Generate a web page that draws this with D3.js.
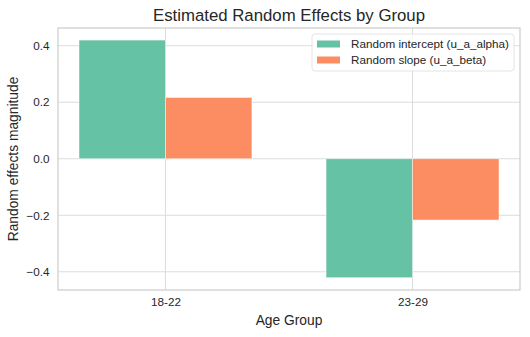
<!DOCTYPE html>
<html>
<head>
<meta charset="utf-8">
<script src="https://cdn.jsdelivr.net/npm/d3@7"></script>
<style>
  body { margin: 0; background: #fff; }
  text { font-family: "Liberation Sans", Arial, sans-serif; fill: #262626; }
</style>
</head>
<body>
<svg id="chart" width="530" height="337"></svg>
<script>
const groups = ["18-22", "23-29"];
const interceptValues = [0.42, -0.421];
const slopeValues = [0.217, -0.217];
const seriesNames = ["Random intercept (u_a_alpha)", "Random slope (u_a_beta)"];
const yTicks = [-0.4, -0.2, 0.0, 0.2, 0.4];

const svg = d3.select("#chart");
const margin = { top: 28, right: 10, bottom: 47, left: 58 };
const width = +svg.attr("width");
const height = +svg.attr("height");
const chartWidth = width - margin.left - margin.right;
const chartHeight = height - margin.top - margin.bottom;
const colors = ["#66c2a5", "#fc8d62"];
const barWidth = 0.35;

const chart = svg.append("g")
    .attr("transform", `translate(${margin.left},${margin.top})`);

// numeric x like matplotlib: category index, bars offset by half a width
const xScale = d3.scaleLinear().domain([-0.435, 1.435]).range([0, chartWidth]);
const yScale = d3.scaleLinear().domain([-0.4645, 0.4627]).range([chartHeight, 0]);

// grid
chart.append("g")
    .selectAll("line.ygrid")
    .data(yTicks)
    .join("line")
    .attr("x1", 0).attr("x2", chartWidth)
    .attr("y1", d => yScale(d)).attr("y2", d => yScale(d))
    .attr("stroke", "#dcdcdc").attr("stroke-width", 1);

chart.append("g")
    .selectAll("line.xgrid")
    .data(groups)
    .join("line")
    .attr("x1", (d, i) => xScale(i)).attr("x2", (d, i) => xScale(i))
    .attr("y1", 0).attr("y2", chartHeight)
    .attr("stroke", "#dcdcdc").attr("stroke-width", 1);

// bars
const series = [interceptValues, slopeValues];
series.forEach((vals, s) => {
    const offset = s === 0 ? -barWidth / 2 : barWidth / 2;
    chart.append("g")
        .selectAll("rect")
        .data(vals)
        .join("rect")
        .attr("x", (d, i) => xScale(i + offset - barWidth / 2))
        .attr("width", xScale(barWidth) - xScale(0))
        .attr("y", d => yScale(Math.max(0, d)))
        .attr("height", d => Math.abs(yScale(d) - yScale(0)))
        .attr("fill", colors[s])
        .attr("stroke", "#ffffff")
        .attr("stroke-opacity", 0.6)
        .attr("stroke-width", 0.8);
});

// frame
chart.append("rect")
    .attr("width", chartWidth).attr("height", chartHeight)
    .attr("fill", "none").attr("stroke", "#cccccc").attr("stroke-width", 1.2);

// axes
const yAxis = d3.axisLeft(yScale).tickValues(yTicks).tickSize(0).tickPadding(8.5)
    .tickFormat(d => d3.format(".1f")(d).replace("-", "\u2212"));
chart.append("g").call(yAxis)
    .call(g => g.select(".domain").remove())
    .selectAll("text").style("font-size", "11.7px").attr("fill", "#262626");

const xAxis = d3.axisBottom(xScale).tickValues([0, 1]).tickSize(0).tickPadding(8)
    .tickFormat(i => groups[i]);
chart.append("g").attr("transform", `translate(0,${chartHeight})`).call(xAxis)
    .call(g => g.select(".domain").remove())
    .selectAll("text").style("font-size", "11.7px").attr("fill", "#262626");

// labels
svg.append("text")
    .attr("x", margin.left + chartWidth / 2).attr("y", 21)
    .attr("text-anchor", "middle").style("font-size", "16.8px")
    .text("Estimated Random Effects by Group");

svg.append("text")
    .attr("x", margin.left + chartWidth / 2).attr("y", 325)
    .attr("text-anchor", "middle").style("font-size", "13.8px")
    .text("Age Group");

svg.append("text")
    .attr("transform", `translate(18,${margin.top + chartHeight / 2}) rotate(-90)`)
    .attr("text-anchor", "middle").style("font-size", "13.8px")
    .text("Random effects magnitude");

// legend
const legend = svg.append("g").attr("transform", "translate(312,34)");
legend.append("rect")
    .attr("width", 202).attr("height", 37).attr("rx", 3)
    .attr("fill", "#ffffff").attr("fill-opacity", 0.8)
    .attr("stroke", "#dddddd").attr("stroke-width", 0.8);
seriesNames.forEach((name, i) => {
    const row = legend.append("g").attr("transform", `translate(5,${10 + i * 16})`);
    row.append("rect").attr("x", 0).attr("y", -3.5).attr("width", 23).attr("height", 7)
        .attr("fill", colors[i]);
    row.append("text").attr("x", 34).attr("y", 4.2).style("font-size", "11.7px").text(name);
});
</script>
</body>
</html>
